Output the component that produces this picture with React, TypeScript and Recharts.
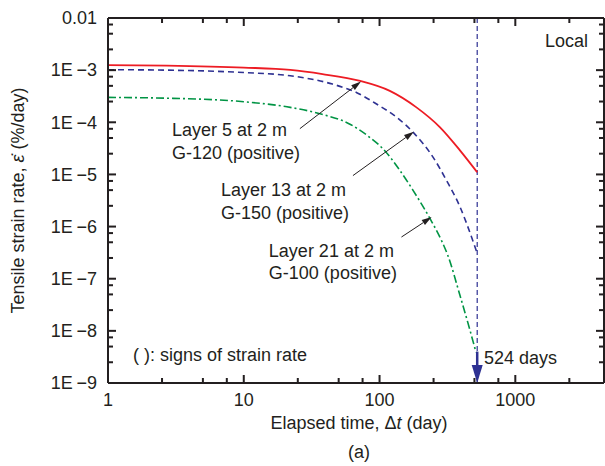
import { LineChart, Line, XAxis, YAxis, ReferenceLine, ReferenceDot } from 'recharts'

// strain-rate curves: t = elapsed days, v = %/day
const layer5 = [
  { t: 1, v: 1.25e-3 }, { t: 2.7, v: 1.22e-3 }, { t: 10, v: 1.12e-3 }, { t: 22, v: 1.01e-3 },
  { t: 38, v: 8.4e-4 }, { t: 72, v: 6.2e-4 }, { t: 119, v: 4.0e-4 },
  { t: 187, v: 1.93e-4 }, { t: 279, v: 8.0e-5 }, { t: 391, v: 2.9e-5 }, { t: 524, v: 1.1e-5 },
]
const layer13 = [
  { t: 1, v: 1.02e-3 }, { t: 2.7, v: 1.0e-3 }, { t: 10, v: 9.0e-4 }, { t: 22, v: 7.8e-4 },
  { t: 45, v: 5.4e-4 }, { t: 68, v: 3.7e-4 }, { t: 95, v: 2.24e-4 }, { t: 134, v: 1.24e-4 },
  { t: 177, v: 6.4e-5 }, { t: 249, v: 2.1e-5 }, { t: 312, v: 7.6e-6 }, { t: 391, v: 2.4e-6 },
  { t: 476, v: 6.3e-7 }, { t: 519, v: 3.3e-7 },
]
const layer21 = [
  { t: 1, v: 3.0e-4 }, { t: 2.7, v: 2.9e-4 }, { t: 10, v: 2.48e-4 }, { t: 22, v: 1.93e-4 },
  { t: 37, v: 1.44e-4 }, { t: 60, v: 9.3e-5 }, { t: 85, v: 5.1e-5 }, { t: 106, v: 3.1e-5 },
  { t: 141, v: 1.2e-5 }, { t: 177, v: 4.9e-6 }, { t: 235, v: 1.43e-6 }, { t: 286, v: 5.4e-7 },
  { t: 320, v: 2.7e-7 }, { t: 391, v: 4.8e-8 }, { t: 463, v: 1.04e-8 }, { t: 513, v: 3.9e-9 },
]

const endDay = 524
const xMin = 1
const xMax = 4500
const yMin = 1e-9
const yMax = 1e-2

const xMajor = [1, 10, 100, 1000]
const xMajorLabels = ['1', '10', '100', '1000']
const minorSteps = [2.5, 5, 7.5]
const yMajor = [1e-9, 1e-8, 1e-7, 1e-6, 1e-5, 1e-4, 1e-3, 1e-2]
const yMajorLabels = ['1E\u2009−9', '1E\u2009−8', '1E\u2009−7', '1E\u2009−6', '1E\u2009−5', '1E\u2009−4', '1E\u2009−3', '0.01']

const xMinor = xMajor.flatMap(d => minorSteps.map(m => m * d)).filter(v => v < xMax)
const yMinor = yMajor.slice(0, -1).flatMap(d => minorSteps.map(m => m * d))
const xTickAll = [...xMajor, ...xMinor]
const yTickAll = [...yMajor, ...yMinor]

// text notes, anchored in data coordinates (left edge, vertical centre)
const notes = [
  { t: 2.96, v: 7.2e-5, text: 'Layer 5 at 2 m' },
  { t: 2.96, v: 2.62e-5, text: 'G-120 (positive)' },
  { t: 6.8, v: 5.1e-6, text: 'Layer 13 at 2 m' },
  { t: 6.8, v: 1.87e-6, text: 'G-150 (positive)' },
  { t: 15.3, v: 3.4e-7, text: 'Layer 21 at 2 m' },
  { t: 15.3, v: 1.29e-7, text: 'G-100 (positive)' },
  { t: 1.53, v: 3.44e-9, text: '( ): signs of strain rate' },
  { t: 587, v: 3.0e-9, text: '524 days' },
  { t: 1652, v: 3.63e-3, text: 'Local' },
]

// leader arrows (from -> to)
const leaders = [
  { from: { x: 25.9, y: 7.55e-5 }, to: { x: 73, y: 6.05e-4 } },
  { from: { x: 63.7, y: 9.5e-6 }, to: { x: 179, y: 6.6e-5 } },
  { from: { x: 145, y: 6.3e-7 }, to: { x: 242, y: 1.52e-6 } },
]
const endArrow = { from: { x: endDay, y: 4.0e-9 }, to: { x: endDay, y: 1e-9 } }

const FONT = "'Liberation Sans', Arial, Helvetica, sans-serif"
const INK = '#231f20'
const RED = '#ed1c24'
const BLUE = '#2e3192'
const GREEN = '#009444'

// bottom axis: label + inward tick mark
const BottomTick = ({ x, y, payload }: any) => {
  const i = xMajor.indexOf(payload.value)
  return (
    <g>
      <rect x={x - 1} y={y - (i >= 0 ? 8 : 5)} width={2} height={i >= 0 ? 8 : 5} fill={INK} stroke="none" />
      {i >= 0 && (
        <text x={x} y={y + 23} textAnchor="middle" fontSize={18} fontFamily={FONT} fill={INK} stroke="none">
          {xMajorLabels[i]}
        </text>
      )}
    </g>
  )
}

// left axis: label + inward tick mark
const LeftTick = ({ x, y, payload }: any) => {
  const i = yMajor.indexOf(payload.value)
  return (
    <g>
      <rect x={x} y={y - 1} width={i >= 0 ? 8 : 5} height={2} fill={INK} stroke="none" />
      {i >= 0 && (
        <text x={x - 11} y={y} dy="0.35em" textAnchor="end" fontSize={18} fontFamily={FONT} fill={INK} stroke="none">
          {yMajorLabels[i]}
        </text>
      )}
    </g>
  )
}

// mirrored frame ticks (top and right edges)
const TopTick = ({ x, y, payload }: any) => {
  const len = xMajor.includes(payload.value) ? 8 : 5
  return <rect x={x - 1} y={y} width={2} height={len} fill={INK} stroke="none" />
}
const RightTick = ({ x, y, payload }: any) => {
  const len = yMajor.includes(payload.value) ? 8 : 5
  return <rect x={x - len} y={y - 1} width={len} height={2} fill={INK} stroke="none" />
}

const XTitle = ({ viewBox }: any) => {
  const cx = viewBox.x + viewBox.width / 2 + 3
  return (
    <g fontFamily={FONT} fontSize={18} fill={INK}>
      <text x={cx} y={viewBox.y + 46} textAnchor="middle">
        Elapsed time, Δ<tspan fontStyle="italic">t</tspan> (day)
      </text>
      <text x={cx} y={viewBox.y + 75} textAnchor="middle">(a)</text>
    </g>
  )
}

const YTitle = ({ viewBox }: any) => {
  const cy = viewBox.y + viewBox.height / 2
  return (
    <text x={18} y={cy} transform={`rotate(-90 18 ${cy})`} textAnchor="middle" dy="0.35em"
      fontFamily={FONT} fontSize={18} fill={INK}>
      Tensile strain rate, <tspan fontStyle="italic">ε̇</tspan> (%/day)
    </text>
  )
}

const arrowShape = (color: string, sw: number, hl: number, hw: number) => (p: any) => {
  const { x1, y1, x2, y2 } = p
  const a = Math.atan2(y2 - y1, x2 - x1)
  const bx = x2 - hl * Math.cos(a)
  const by = y2 - hl * Math.sin(a)
  const nx = (-Math.sin(a) * hw) / 2
  const ny = (Math.cos(a) * hw) / 2
  return (
    <g>
      <line x1={x1} y1={y1} x2={bx} y2={by} stroke={color} strokeWidth={sw} />
      <polygon points={`${x2},${y2} ${bx + nx},${by + ny} ${bx - nx},${by - ny}`} fill={color} />
    </g>
  )
}

const noteShape = (text: string) => (p: any) => (
  <text x={p.cx} y={p.cy} dy="0.35em" fontSize={18} fontFamily={FONT} fill={INK}>{text}</text>
)

export default function App() {
  const axisLine = { stroke: INK, strokeWidth: 2 }
  return (
    <div style={{ position: 'absolute', left: 0, top: 0, width: 605, height: 466, background: '#fff' }}>
      <LineChart width={605} height={466} margin={{ top: 17, right: 0, bottom: 0, left: 0 }}>
        <XAxis dataKey="t" type="number" scale="log" domain={[xMin, xMax]} allowDataOverflow
          ticks={xTickAll} interval={0} minTickGap={0} tick={<BottomTick />} tickSize={0} tickMargin={0}
          tickLine={false} axisLine={axisLine} height={83} label={<XTitle />} />
        <XAxis xAxisId="top" orientation="top" dataKey="t" type="number" scale="log" domain={[xMin, xMax]}
          allowDataOverflow ticks={xTickAll} interval={0} minTickGap={0} tick={<TopTick />} tickSize={0}
          tickMargin={0} tickLine={false} axisLine={axisLine} height={1} />
        <YAxis dataKey="v" type="number" scale="log" domain={[yMin, yMax]} allowDataOverflow
          ticks={yTickAll} interval={0} minTickGap={0} tick={<LeftTick />} tickSize={0} tickMargin={0}
          tickLine={false} axisLine={axisLine} width={108} label={<YTitle />} />
        <YAxis yAxisId="right" orientation="right" dataKey="v" type="number" scale="log" domain={[yMin, yMax]}
          allowDataOverflow ticks={yTickAll} interval={0} minTickGap={0} tick={<RightTick />} tickSize={0}
          tickMargin={0} tickLine={false} axisLine={axisLine} width={1} />

        <ReferenceLine x={endDay} stroke={BLUE} strokeWidth={1.2} strokeDasharray="5 3" />

        <Line data={layer5} dataKey="v" type="monotone" stroke={RED} strokeWidth={1.8} dot={false}
          isAnimationActive={false} />
        <Line data={layer13} dataKey="v" type="monotone" stroke={BLUE} strokeWidth={1.6} strokeDasharray="6 4"
          dot={false} isAnimationActive={false} />
        <Line data={layer21} dataKey="v" type="monotone" stroke={GREEN} strokeWidth={1.6}
          strokeDasharray="8 3 2 3" dot={false} isAnimationActive={false} />

        {leaders.map((l, i) => (
          <ReferenceLine key={`ar${i}`} segment={[l.from, l.to]} shape={arrowShape(INK, 1, 10, 6)} />
        ))}
        <ReferenceLine segment={[endArrow.from, endArrow.to]} shape={arrowShape(BLUE, 2.5, 18, 11)} />

        {notes.map((n, i) => (
          <ReferenceDot key={`n${i}`} x={n.t} y={n.v} r={0} shape={noteShape(n.text)} />
        ))}
      </LineChart>
    </div>
  )
}
